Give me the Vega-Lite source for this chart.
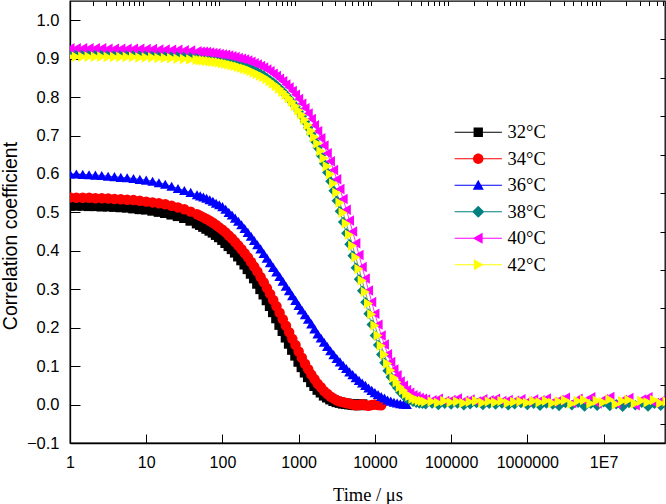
{
"$schema": "https://vega.github.io/schema/vega-lite/v6.json",
"width": 595, "height": 442,
"autosize": {"type": "none"},
"padding": {"left": 70, "top": 1, "right": 1, "bottom": 61},
"background": "white",
"config": {"view": {"stroke": "black", "strokeWidth": 1.3}, "font": "Liberation Sans"},
"data": {"values": [
{"t":1,"a":0.518,"b":0.539,"c":0.600,"d":0.915,"e":0.927,"f":0.905},
{"t":1.2115,"a":0.518,"b":0.538,"c":0.600,"d":0.915,"e":0.927,"f":0.905},
{"t":1.4678,"a":0.518,"b":0.538,"c":0.599,"d":0.915,"e":0.927,"f":0.905},
{"t":1.7783,"a":0.517,"b":0.538,"c":0.598,"d":0.915,"e":0.927,"f":0.905},
{"t":2.1544,"a":0.517,"b":0.537,"c":0.597,"d":0.915,"e":0.927,"f":0.905},
{"t":2.6102,"a":0.516,"b":0.537,"c":0.596,"d":0.914,"e":0.927,"f":0.905},
{"t":3.1623,"a":0.516,"b":0.536,"c":0.594,"d":0.914,"e":0.926,"f":0.904},
{"t":3.8312,"a":0.515,"b":0.535,"c":0.593,"d":0.914,"e":0.926,"f":0.904},
{"t":4.6416,"a":0.514,"b":0.534,"c":0.591,"d":0.914,"e":0.926,"f":0.904},
{"t":5.6234,"a":0.513,"b":0.533,"c":0.590,"d":0.914,"e":0.926,"f":0.904},
{"t":6.8129,"a":0.511,"b":0.532,"c":0.588,"d":0.914,"e":0.926,"f":0.904},
{"t":8.254,"a":0.509,"b":0.530,"c":0.586,"d":0.913,"e":0.926,"f":0.903},
{"t":10,"a":0.508,"b":0.528,"c":0.584,"d":0.913,"e":0.925,"f":0.903},
{"t":12.115,"a":0.505,"b":0.526,"c":0.581,"d":0.913,"e":0.925,"f":0.903},
{"t":14.678,"a":0.502,"b":0.524,"c":0.577,"d":0.912,"e":0.924,"f":0.902},
{"t":17.783,"a":0.499,"b":0.521,"c":0.573,"d":0.911,"e":0.924,"f":0.902},
{"t":21.544,"a":0.495,"b":0.517,"c":0.568,"d":0.911,"e":0.923,"f":0.901},
{"t":26.102,"a":0.491,"b":0.513,"c":0.562,"d":0.910,"e":0.923,"f":0.900},
{"t":31.623,"a":0.486,"b":0.508,"c":0.557,"d":0.909,"e":0.922,"f":0.899},
{"t":38.312,"a":0.479,"b":0.502,"c":0.552,"d":0.907,"e":0.921,"f":0.898},
{"t":46.416,"a":0.472,"b":0.495,"c":0.546,"d":0.906,"e":0.919,"f":0.897},
{"t":51.09,"a":0.468,"b":0.491,"c":0.543,"d":0.905,"e":0.918,"f":0.896},
{"t":56.234,"a":0.463,"b":0.487,"c":0.540,"d":0.904,"e":0.918,"f":0.895},
{"t":61.90,"a":0.458,"b":0.483,"c":0.537,"d":0.903,"e":0.917,"f":0.894},
{"t":68.129,"a":0.453,"b":0.478,"c":0.533,"d":0.902,"e":0.916,"f":0.893},
{"t":74.99,"a":0.448,"b":0.473,"c":0.529,"d":0.901,"e":0.915,"f":0.892},
{"t":82.54,"a":0.442,"b":0.467,"c":0.524,"d":0.900,"e":0.914,"f":0.891},
{"t":90.85,"a":0.436,"b":0.461,"c":0.520,"d":0.899,"e":0.912,"f":0.890},
{"t":100,"a":0.429,"b":0.455,"c":0.515,"d":0.897,"e":0.911,"f":0.888},
{"t":110.07,"a":0.421,"b":0.448,"c":0.508,"d":0.895,"e":0.910,"f":0.887},
{"t":121.15,"a":0.413,"b":0.440,"c":0.500,"d":0.893,"e":0.908,"f":0.885},
{"t":133.35,"a":0.405,"b":0.432,"c":0.493,"d":0.891,"e":0.906,"f":0.883},
{"t":146.78,"a":0.396,"b":0.423,"c":0.485,"d":0.889,"e":0.904,"f":0.881},
{"t":161.56,"a":0.386,"b":0.414,"c":0.477,"d":0.886,"e":0.902,"f":0.879},
{"t":177.83,"a":0.376,"b":0.404,"c":0.468,"d":0.883,"e":0.900,"f":0.876},
{"t":195.73,"a":0.365,"b":0.394,"c":0.458,"d":0.880,"e":0.898,"f":0.874},
{"t":215.44,"a":0.353,"b":0.383,"c":0.448,"d":0.877,"e":0.895,"f":0.871},
{"t":237.14,"a":0.341,"b":0.371,"c":0.438,"d":0.874,"e":0.892,"f":0.868},
{"t":261.02,"a":0.329,"b":0.359,"c":0.427,"d":0.870,"e":0.888,"f":0.864},
{"t":287.30,"a":0.315,"b":0.346,"c":0.416,"d":0.866,"e":0.885,"f":0.860},
{"t":316.23,"a":0.301,"b":0.332,"c":0.405,"d":0.861,"e":0.881,"f":0.856},
{"t":348.07,"a":0.287,"b":0.318,"c":0.393,"d":0.856,"e":0.877,"f":0.852},
{"t":383.12,"a":0.272,"b":0.303,"c":0.381,"d":0.850,"e":0.872,"f":0.847},
{"t":421.70,"a":0.257,"b":0.288,"c":0.369,"d":0.844,"e":0.867,"f":0.841},
{"t":464.16,"a":0.241,"b":0.272,"c":0.357,"d":0.838,"e":0.861,"f":0.835},
{"t":510.90,"a":0.225,"b":0.256,"c":0.345,"d":0.831,"e":0.855,"f":0.829},
{"t":562.34,"a":0.208,"b":0.239,"c":0.333,"d":0.823,"e":0.848,"f":0.822},
{"t":618.97,"a":0.192,"b":0.222,"c":0.321,"d":0.815,"e":0.841,"f":0.814},
{"t":681.29,"a":0.175,"b":0.205,"c":0.308,"d":0.806,"e":0.833,"f":0.806},
{"t":749.89,"a":0.159,"b":0.188,"c":0.296,"d":0.796,"e":0.825,"f":0.797},
{"t":825.4,"a":0.143,"b":0.171,"c":0.283,"d":0.786,"e":0.816,"f":0.788},
{"t":908.52,"a":0.128,"b":0.155,"c":0.271,"d":0.775,"e":0.806,"f":0.777},
{"t":1000,"a":0.112,"b":0.138,"c":0.258,"d":0.763,"e":0.795,"f":0.766},
{"t":1100.7,"a":0.098,"b":0.122,"c":0.246,"d":0.750,"e":0.783,"f":0.754},
{"t":1211.5,"a":0.084,"b":0.106,"c":0.234,"d":0.736,"e":0.771,"f":0.741},
{"t":1333.5,"a":0.072,"b":0.092,"c":0.222,"d":0.720,"e":0.757,"f":0.727},
{"t":1467.8,"a":0.059,"b":0.078,"c":0.210,"d":0.704,"e":0.743,"f":0.712},
{"t":1615.6,"a":0.049,"b":0.066,"c":0.197,"d":0.686,"e":0.727,"f":0.696},
{"t":1778.3,"a":0.039,"b":0.054,"c":0.184,"d":0.668,"e":0.711,"f":0.679},
{"t":1957.3,"a":0.032,"b":0.045,"c":0.173,"d":0.648,"e":0.693,"f":0.660},
{"t":2154.4,"a":0.024,"b":0.035,"c":0.162,"d":0.627,"e":0.674,"f":0.641},
{"t":2371.4,"a":0.019,"b":0.028,"c":0.151,"d":0.604,"e":0.654,"f":0.620},
{"t":2610.2,"a":0.014,"b":0.021,"c":0.140,"d":0.581,"e":0.633,"f":0.599},
{"t":2873.0,"a":0.010,"b":0.016,"c":0.130,"d":0.556,"e":0.610,"f":0.575},
{"t":3162.3,"a":0.007,"b":0.011,"c":0.120,"d":0.530,"e":0.586,"f":0.551},
{"t":3480.7,"a":0.005,"b":0.008,"c":0.111,"d":0.503,"e":0.561,"f":0.525},
{"t":3831.2,"a":0.003,"b":0.006,"c":0.102,"d":0.475,"e":0.535,"f":0.499},
{"t":4217.0,"a":0.002,"b":0.004,"c":0.094,"d":0.446,"e":0.507,"f":0.471},
{"t":4641.6,"a":0.001,"b":0.002,"c":0.085,"d":0.417,"e":0.479,"f":0.442},
{"t":5109.0,"a":0.000,"b":0.000,"c":0.078,"d":0.387,"e":0.450,"f":0.413},
{"t":5623.4,"a":-0.001,"b":-0.002,"c":0.070,"d":0.356,"e":0.420,"f":0.383},
{"t":6189.7,"a":-0.001,"b":-0.001,"c":0.063,"d":0.326,"e":0.389,"f":0.353},
{"t":6812.9,"a":0.000,"b":0.001,"c":0.056,"d":0.296,"e":0.358,"f":0.323},
{"t":7498.9,"b":-0.002,"c":0.050,"d":0.266,"e":0.328,"f":0.293},
{"t":8254,"b":-0.003,"c":0.043,"d":0.236,"e":0.297,"f":0.263},
{"t":9085.2,"b":-0.001,"c":0.037,"d":0.208,"e":0.267,"f":0.235},
{"t":10000,"b":0.000,"c":0.031,"d":0.180,"e":0.236,"f":0.206},
{"t":11007,"b":-0.001,"c":0.026,"d":0.155,"e":0.208,"f":0.180},
{"t":12115,"b":-0.002,"c":0.021,"d":0.130,"e":0.180,"f":0.153},
{"t":13335,"c":0.017,"d":0.109,"e":0.156,"f":0.130},
{"t":14678,"c":0.012,"d":0.088,"e":0.131,"f":0.107},
{"t":16156,"c":0.009,"d":0.072,"e":0.111,"f":0.089},
{"t":17783,"c":0.006,"d":0.055,"e":0.091,"f":0.070},
{"t":19573,"c":0.004,"d":0.044,"e":0.076,"f":0.058},
{"t":21544,"c":0.002,"d":0.032,"e":0.060,"f":0.046},
{"t":23714,"c":0.001,"d":0.024,"e":0.049,"f":0.037},
{"t":26102,"c":0.000,"d":0.016,"e":0.038,"f":0.028},
{"t":28730,"d":0.011,"e":0.031,"f":0.022},
{"t":31623,"d":0.007,"e":0.024,"f":0.016},
{"t":34807,"d":0.005,"e":0.021,"f":0.013},
{"t":38312,"d":0.003,"e":0.017,"f":0.010},
{"t":42170,"d":0.002,"e":0.015,"f":0.009},
{"t":46416,"d":0.001,"e":0.013,"f":0.007},
{"t":56234,"d":0.003,"e":0.011,"f":0.008},
{"t":68129,"d":-0.001,"e":0.015,"f":0.005},
{"t":82540,"d":0.002,"e":0.009,"f":0.009},
{"t":100000,"d":0.000,"e":0.012,"f":0.006},
{"t":121150,"d":0.003,"e":0.016,"f":0.008},
{"t":146780,"d":-0.002,"e":0.010,"f":0.004},
{"t":177830,"d":0.001,"e":0.013,"f":0.007},
{"t":215440,"d":0.004,"e":0.008,"f":0.009},
{"t":261020,"d":-0.001,"e":0.014,"f":0.005},
{"t":316230,"d":0.002,"e":0.011,"f":0.008},
{"t":383120,"d":0.000,"e":0.015,"f":0.006},
{"t":464160,"d":0.003,"e":0.009,"f":0.009},
{"t":562340,"d":-0.002,"e":0.012,"f":0.004},
{"t":681290,"d":0.001,"e":0.010,"f":0.007},
{"t":825400,"d":0.004,"e":0.014,"f":0.008},
{"t":1000000,"d":-0.001,"e":0.008,"f":0.005},
{"t":1211500,"d":0.002,"e":0.013,"f":0.009},
{"t":1467800,"d":-0.003,"e":0.011,"f":0.006},
{"t":1778300,"d":0.003,"e":0.016,"f":0.010},
{"t":2154400,"d":0.000,"e":0.007,"f":0.004},
{"t":2610200,"d":-0.004,"e":0.012,"f":0.008},
{"t":3162300,"d":0.004,"e":0.018,"f":0.011},
{"t":3831200,"d":-0.002,"e":0.004,"f":0.002},
{"t":4641600,"d":0.005,"e":0.015,"f":0.009},
{"t":5623400,"d":-0.005,"e":0.009,"f":0.012},
{"t":6812900,"d":0.002,"e":0.019,"f":0.003},
{"t":8254000,"d":-0.003,"e":0.003,"f":0.010},
{"t":10000000,"d":0.006,"e":0.014,"f":0.006},
{"t":12115000,"d":-0.004,"e":0.020,"f":0.013},
{"t":14678000,"d":0.001,"e":0.002,"f":0.001},
{"t":17783000,"d":-0.006,"e":0.012,"f":0.009},
{"t":21544000,"d":0.004,"e":0.017,"f":0.012},
{"t":26102000,"d":-0.002,"e":-0.002,"f":0.003},
{"t":31623000,"d":0.005,"e":0.013,"f":0.010},
{"t":38312000,"d":-0.005,"e":0.019,"f":0.006},
{"t":46416000,"d":0.002,"e":0.004,"f":0.012},
{"t":56234000,"d":-0.003,"e":0.010,"f":0.004},
{"t":68129000,"d":0.001,"e":0.015,"f":0.008}
]},
"transform": [
  {"fold": ["a","b","c","d","e","f"], "as": ["s","v"]},
  {"filter": "isValid(datum.v)"}
],
"layer": [
  {
    "mark": {"type": "line", "strokeWidth": 0.8, "clip": true},
    "encoding": {
      "x": {"field": "t", "type": "quantitative",
        "scale": {"type": "log", "domain": [1, 64000000], "nice": false},
        "axis": {"values": [1,10,100,1000,10000,100000,1000000,10000000],
          "labelExpr": "datum.value >= 10000000 ? '1E7' : format(datum.value, 'd')",
          "grid": false, "tickSize": -9, "tickWidth": 1, "tickColor": "black",
          "domainColor": "black", "domainWidth": 1.3,
          "labelFont": "Liberation Sans", "labelFontSize": 16, "labelColor": "black",
          "labelPadding": 20, "labelFlush": false, "labelOverlap": false,
          "title": "Time / μs", "titleFont": "Liberation Serif", "titleFontSize": 18.5,
          "titleFontWeight": "normal", "titleColor": "black",
          "titleBaseline": "top", "titleY": 42.5}},
      "y": {"field": "v", "type": "quantitative",
        "scale": {"domain": [-0.1, 1.05], "nice": false, "zero": false},
        "axis": {"values": [-0.1,0,0.1,0.2,0.3,0.4,0.5,0.6,0.7,0.8,0.9,1.0],
          "format": ".1f", "grid": false, "tickSize": -10, "tickWidth": 1, "tickColor": "black",
          "domainColor": "black", "domainWidth": 1.3,
          "labelFont": "Liberation Sans", "labelFontSize": 16.5, "labelColor": "black",
          "labelPadding": 21, "labelFlush": false, "labelOverlap": false,
          "title": "Correlation coefficient", "titleFont": "Liberation Sans", "titleFontSize": 19.5,
          "titleFontWeight": "normal", "titleColor": "black",
          "titleAngle": -90, "titleBaseline": "bottom", "titleX": -50, "titleY": 234.5}},
      "stroke": {"field": "s", "type": "nominal",
        "scale": {"range": ["#000000","#ff0000","#0000ff","#008080","#ff00ff","#808000"]},
        "legend": null}
    }
  },
  {
    "mark": {"type": "point", "filled": true, "size": 110, "opacity": 1, "strokeWidth": 0, "clip": true},
    "encoding": {
      "x": {"field": "t", "type": "quantitative",
        "axis": {"values": [2,3,4,5,6,7,8,9,20,30,40,50,60,70,80,90,200,300,400,500,600,700,800,900,2000,3000,4000,5000,6000,7000,8000,9000,20000,30000,40000,50000,60000,70000,80000,90000,200000,300000,400000,500000,600000,700000,800000,900000,2000000,3000000,4000000,5000000,6000000,7000000,8000000,9000000,20000000,30000000,40000000,50000000,60000000],
          "labels": false, "domain": false, "grid": false, "tickSize": -4.5, "tickWidth": 1, "tickColor": "black", "title": null}},
      "y": {"field": "v", "type": "quantitative",
        "axis": {"values": [-0.05,0.05,0.15,0.25,0.35,0.45,0.55,0.65,0.75,0.85,0.95],
          "labels": false, "domain": false, "grid": false, "tickSize": -5, "tickWidth": 1, "tickColor": "black", "title": null}},
      "fill": {"field": "s", "type": "nominal",
        "scale": {"range": ["#000000","#ff0000","#0000ff","#008080","#ff00ff","#ffff00"]},
        "legend": null},
      "shape": {"field": "s", "type": "nominal",
        "scale": {"range": ["square","circle","triangle-up","diamond","triangle-left","triangle-right"]},
        "legend": null},
      "order": {"field": "s", "type": "ordinal"}
    }
  },
  {
    "transform": [{"filter": "datum.t == 1"}],
    "mark": {"type": "point", "filled": true, "size": 1, "opacity": 0},
    "encoding": {
      "x": {"field": "t", "type": "quantitative", "axis": null},
      "y": {"field": "v", "type": "quantitative", "axis": null},
      "color": {"field": "s", "type": "nominal",
        "scale": {"domain": ["a","b","c","d","e","f"], "range": ["#000000","#ff0000","#0000ff","#008080","#ff00ff","#ffff00"]},
        "legend": {"orient": "none", "legendX": 399, "legendY": 122, "title": null,
          "padding": 0, "symbolSize": 121, "symbolOpacity": 1, "labelOffset": 20, "rowPadding": 7.5,
          "labelFont": "Liberation Serif", "labelFontSize": 18.5, "labelColor": "black",
          "labelExpr": "datum.value == 'a' ? '32°C' : datum.value == 'b' ? '34°C' : datum.value == 'c' ? '36°C' : datum.value == 'd' ? '38°C' : datum.value == 'e' ? '40°C' : '42°C'"}},
      "shape": {"field": "s", "type": "nominal",
        "scale": {"domain": ["a","b","c","d","e","f"], "range": [
          "M-4.3,-0.09H4.3V0.09H-4.3ZM-0.85,-0.85H0.85V0.85H-0.85Z",
          "M-4.3,-0.09H4.3V0.09H-4.3ZM-0.95,0A0.95,0.95,0,1,1,0.95,0A0.95,0.95,0,1,1,-0.95,0Z",
          "M-4.3,-0.09H4.3V0.09H-4.3ZM0,-1L1,0.8L-1,0.8Z",
          "M-4.3,-0.09H4.3V0.09H-4.3ZM0,-1.1L1.1,0L0,1.1L-1.1,0Z",
          "M-4.3,-0.09H4.3V0.09H-4.3ZM-1,0L0.8,-1L0.8,1Z",
          "M-4.3,-0.09H4.3V0.09H-4.3ZM1,0L-0.8,1L-0.8,-1Z"]},
        "legend": {"orient": "none", "legendX": 399, "legendY": 122, "title": null,
          "padding": 0, "symbolSize": 121, "symbolOpacity": 1, "labelOffset": 20, "rowPadding": 7.5,
          "labelFont": "Liberation Serif", "labelFontSize": 18.5, "labelColor": "black",
          "labelExpr": "datum.value == 'a' ? '32°C' : datum.value == 'b' ? '34°C' : datum.value == 'c' ? '36°C' : datum.value == 'd' ? '38°C' : datum.value == 'e' ? '40°C' : '42°C'"}}
    }
  }
],
"resolve": {"scale": {"shape": "independent", "color": "independent"}, "axis": {"x": "independent", "y": "independent"}}
}
